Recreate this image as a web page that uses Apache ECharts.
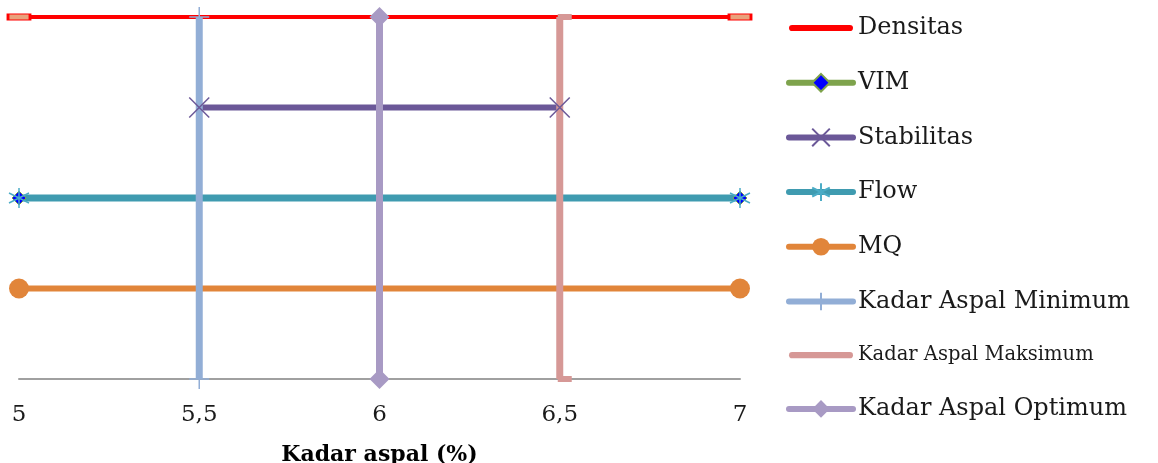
<!DOCTYPE html>
<html>
<head>
<meta charset="utf-8">
<script src="https://cdn.jsdelivr.net/npm/echarts@6/dist/echarts.min.js"></script>
<style>
  html,body{margin:0;padding:0;background:#fff;}
  #main{width:1158px;height:463px;}
</style>
</head>
<body>
<div id="main"></div>
<script>
// data
var xTicks = [5, 5.5, 6, 6.5, 7];
var densitasX = [5, 7],   densitasY = [4, 4];
var vimX = [5, 7],        vimY = [2, 2];
var stabilitasX = [5.5, 6.5], stabilitasY = [3, 3];
var flowX = [5, 7],       flowY = [2, 2];
var mqX = [5, 7],         mqY = [1, 1];
var minX = [5.5, 5.5],    minY = [0, 4];
var maxX = [6.5, 6.5],    maxY = [0, 4];
var optX = [6, 6],        optY = [0, 4];

function pairs(xs, ys){
    var out = [];
    for (var i = 0; i < xs.length; i++) out.push([xs[i], ys[i]]);
    return out;
}

var FONT = 'DejaVu Serif';
var crossPath = 'path://M0,0 L10,10 M10,0 L0,10';
var starPath = 'path://M5,0 L5,10 M0,2.5 L10,7.5 M10,2.5 L0,7.5';
var plusPath = 'path://M5,0 L5,10 M0,5 L10,5';
var barPath = 'path://M3,0 L59,0 A3,3 0 0 1 59,6 L3,6 A3,3 0 0 1 3,0 Z';

function lineSeries(name, data, color, width, symbol, size, extra){
    var s = {
        name: name,
        type: 'line',
        data: data,
        symbol: symbol,
        symbolSize: size,
        showSymbol: true,
        animation: false,
        lineStyle: {color: color, width: width},
        itemStyle: {color: color}
    };
    for (var k in extra) s[k] = extra[k];
    return s;
}

var series = [
    lineSeries('Densitas', pairs(densitasX, densitasY), '#ff0000', 4, 'rect', [22, 6],
        {itemStyle: {color: '#e9a27c', borderColor: '#ff0000', borderWidth: 1.5}}),
    lineSeries('VIM', pairs(vimX, vimY), '#7ea34c', 6, 'diamond', 14,
        {itemStyle: {color: '#0000ff', borderColor: '#7ea34c', borderWidth: 1}}),
    lineSeries('Stabilitas', pairs(stabilitasX, stabilitasY), '#6b5898', 6, crossPath, 20,
        {itemStyle: {color: 'none', borderColor: '#6b5898', borderWidth: 1.5}}),
    lineSeries('Flow', pairs(flowX, flowY), '#3f9bb0', 7, starPath, 20,
        {itemStyle: {color: 'none', borderColor: '#4bacc6', borderWidth: 1.5}}),
    lineSeries('MQ', pairs(mqX, mqY), '#e1853a', 6, 'circle', 20, {}),
    lineSeries('Kadar Aspal Minimum', pairs(minX, minY), '#92aed6', 7, plusPath, 20,
        {itemStyle: {color: 'none', borderColor: '#92aed6', borderWidth: 1.5}}),
    lineSeries('Kadar Aspal Maksimum', pairs(maxX, maxY), '#d69896', 7, 'rect', [14, 6],
        {symbolOffset: [5, 0]}),
    lineSeries('Kadar Aspal Optimum', pairs(optX, optY), '#a89ac4', 7, 'diamond', 20, {})
];

var legendData = series.map(function (s) {
    if (s.name === 'Densitas') return {name: s.name, icon: barPath, itemStyle: {color: '#ff0000', borderWidth: 0}};
    if (s.name === 'Kadar Aspal Maksimum') return {name: s.name, icon: barPath, itemStyle: {color: '#d69896'}};
    return {name: s.name};
});

var chart = echarts.init(document.getElementById('main'));
chart.setOption({
    backgroundColor: '#fff',
    animation: false,
    grid: {left: 19, right: 418, top: 17, bottom: 84, outerBoundsMode: 'none', containLabel: false},
    legend: {
        orient: 'vertical',
        left: 781,
        top: 11,
        padding: 5,
        itemWidth: 64,
        itemHeight: 22,
        itemGap: 30.7,
        lineStyle: {width: 6, cap: 'round'},
        textStyle: {
            fontFamily: FONT, fontSize: 24, color: '#1a1a1a', lineHeight: 22,
            rich: {s: {fontFamily: FONT, fontSize: 19.5, color: '#1a1a1a', lineHeight: 22}}
        },
        formatter: function (name) {
            return name === 'Kadar Aspal Maksimum' ? '{s|' + name + '}' : name;
        },
        data: legendData
    },
    xAxis: {
        type: 'value',
        min: 5, max: 7, interval: 0.5,
        name: 'Kadar aspal (%)',
        nameLocation: 'middle',
        nameGap: 65,
        nameTextStyle: {fontFamily: FONT, fontSize: 22, fontWeight: 'bold', color: '#000'},
        axisLine: {lineStyle: {color: '#a0a0a0', width: 2}},
        axisTick: {show: false},
        splitLine: {show: false},
        axisLabel: {
            fontFamily: FONT, fontSize: 23, color: '#1a1a1a', margin: 25,
            formatter: function (v) { return String(v).replace('.', ','); }
        }
    },
    yAxis: {
        type: 'value',
        min: 0, max: 4, interval: 1,
        show: false
    },
    series: series
});
</script>
</body>
</html>
